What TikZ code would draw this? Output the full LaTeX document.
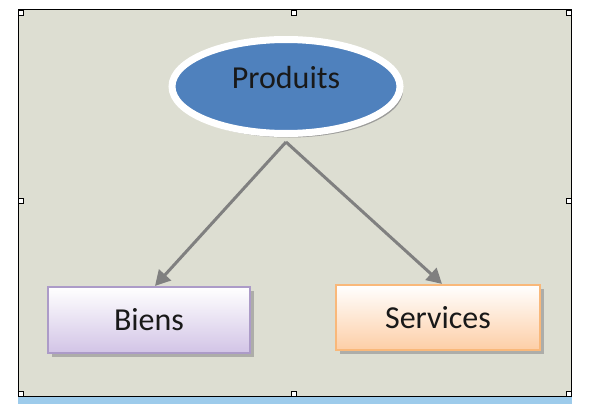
\documentclass[tikz,border=0pt]{standalone}
\usepackage{fontspec}
\setmainfont{Carlito}
\usetikzlibrary{shapes.geometric,arrows.meta,shadows}
\definecolor{bgc}{RGB}{221,222,210}
\definecolor{stripc}{RGB}{157,203,235}
\definecolor{blueell}{RGB}{79,129,189}
\definecolor{arrowc}{RGB}{128,128,128}
\definecolor{lavb}{RGB}{172,155,200}
\definecolor{lavf}{RGB}{210,196,230}
\definecolor{orb}{RGB}{249,184,122}
\definecolor{orf}{RGB}{253,206,166}
\tikzset{
  lbl/.style={font=\fontsize{32}{36}\selectfont, text=black!90},
  ellnode/.style={ellipse, lbl, draw=white, line width=7pt, fill=blueell,
    minimum width=228pt, minimum height=94pt, inner sep=0pt, text depth=18pt,
    drop shadow={shadow xshift=3pt, shadow yshift=-4pt, fill=black!45, opacity=0.8}},
  boxnode/.style={rectangle, lbl, line width=2.2pt, inner sep=0pt,
    drop shadow={shadow xshift=4pt, shadow yshift=-4pt, fill=black!40, opacity=0.7}},
  conn/.style={draw=arrowc, line width=3pt, -{Triangle[length=15pt,width=16pt]}},
  handle/.style={draw=black, fill=white, line width=0.8pt}
}
\begin{document}
\begin{tikzpicture}[x=1pt,y=-1pt]
\useasboundingbox (0,0) rectangle (601,404);
\fill[bgc] (18,10) rectangle (571,396.5);
\fill[stripc] (18,397) rectangle (572,404);
\draw[black, line width=1pt] (18,10) rectangle (571,396.5);
% handles
\foreach \hx/\hy in {18/10, 291.5/10, 566/10, 18/198.5, 566/198.5, 18/391.5, 291.5/391.5, 566/391.5}
  \draw[handle] (\hx,\hy) rectangle ++(5,5);
\node[ellnode] (prod) at (286,86.5) {Produits};
\node[boxnode, draw=lavb, top color=white, bottom color=lavf,
  minimum width=202pt, minimum height=66pt] (biens) at (149,320) {Biens};
\node[boxnode, draw=orb, top color=white, bottom color=orf,
  minimum width=204pt, minimum height=65pt] (serv) at (438,317.5) {Services};
\coordinate (apex) at ([yshift=-5pt]prod.south);
\draw[conn] (apex) -- ([xshift=6pt]biens.north);
\draw[conn] (apex) -- ([xshift=4pt]serv.north);
\end{tikzpicture}
\end{document}
